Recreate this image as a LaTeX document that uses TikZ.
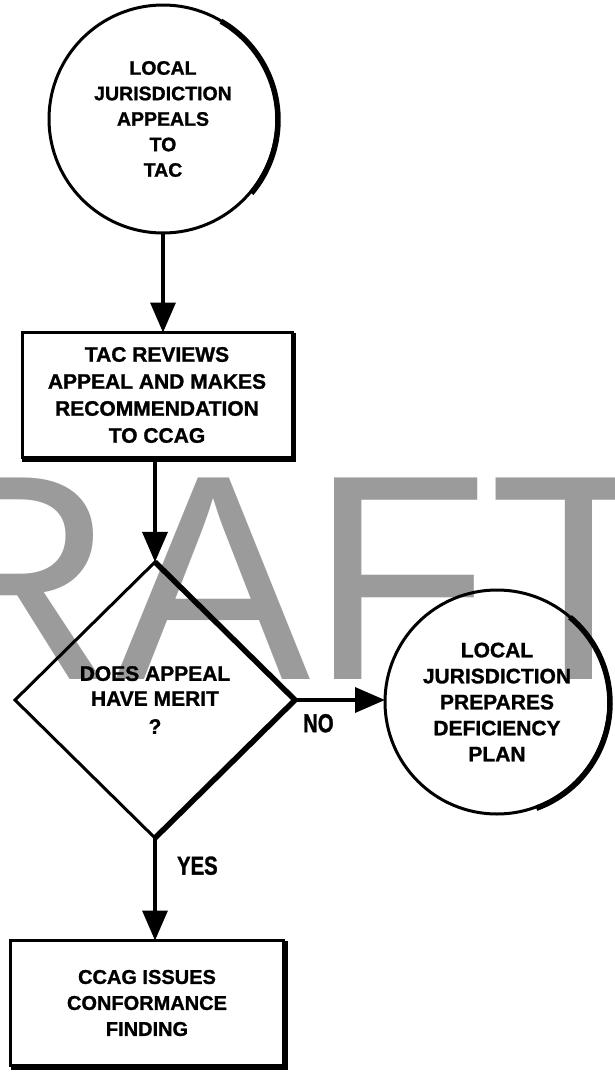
\documentclass[tikz,border=0pt]{standalone}
\usepackage{fontspec}
\setmainfont{Liberation Sans}[BoldFeatures={FakeBold=1.2}]
\newfontfamily\narrowfont[FakeStretch=0.78,BoldFeatures={FakeBold=1.2}]{Liberation Sans}
\usetikzlibrary{arrows.meta,shapes.geometric}
\definecolor{draftgray}{RGB}{155,155,155}

\begin{document}
\begin{tikzpicture}[x=1pt, y=-1pt, >={Triangle[length=30pt,width=25pt]},
    bubble/.style={circle, draw, line width=3pt, outer sep=0pt, align=center,
      font=\bfseries\fontsize{19.5}{25.5}\selectfont},
    panel/.style={rectangle, draw, line width=3pt, outer sep=0pt, minimum height=125pt,
      align=center, font=\bfseries\fontsize{21}{27}\selectfont},
    query/.style={diamond, draw, line width=3pt, outer sep=0pt, inner sep=0pt,
      minimum width=280pt, minimum height=276pt, align=center,
      font=\bfseries\fontsize{21}{25}\selectfont},
    answer/.style={font=\narrowfont\bfseries\fontsize{26}{26}\selectfont},
    heavy/.style={line width=5.5pt},
    flow/.style={line width=3.5pt},
    draftmark/.style={anchor=base west, inner sep=0pt, text=draftgray,
      font=\fontsize{293}{293}\selectfont}]
      \useasboundingbox (0,0) rectangle (614,1074);
      % watermark behind the chart
      \begin{scope}
        \clip (0,0) rectangle (614,1074);
        \node [draftmark] (draft) at (-308,679) {DRAFT};
      \end{scope}
      \node [bubble,minimum size=228pt] (appeal) at (163,119) {LOCAL\\JURISDICTION\\APPEALS\\TO\\TAC};
      \node [panel,minimum width=270pt] (review) at (157,395) {TAC REVIEWS\\APPEAL AND MAKES\\RECOMMENDATION\\TO CCAG};
      \node [query] (merit) at (155,700) {DOES APPEAL\\HAVE MERIT\\[3pt]?};
      \node [bubble,minimum size=224pt,font=\bfseries\fontsize{21}{26}\selectfont] (plan) at (497,702)
        {LOCAL\\JURISDICTION\\PREPARES\\DEFICIENCY\\PLAN};
      \node [panel,minimum width=273pt,font=\bfseries\fontsize{20}{26}\selectfont] (finding) at (147,1003)
        {CCAG ISSUES\\CONFORMANCE\\FINDING};
      % heavy shadow edges
      \draw [heavy] ([shift={(1pt,-1pt)}]appeal.60) arc[start angle=60,end angle=-40,radius=114pt];
      \draw [heavy] ([shift={(1pt,-1pt)}]plan.50) arc[start angle=50,end angle=-70,radius=112pt];
      \draw [heavy,line join=miter] (merit.north) -- (merit.east) -- (merit.south);
      \foreach \b in {review,finding}
        \draw [heavy] ([shift={(1.5pt,0pt)}]\b.north east) -- ([shift={(1.5pt,-1.5pt)}]\b.south east)
          -- ([shift={(0pt,-1.5pt)}]\b.south west);
      \path [->,flow]
      (appeal) edge (appeal.south |- review.north)
      (review.south -| merit.north) edge (merit)
      (merit) edge node[answer,below=9pt,pos=0.26] {NO} (merit.east -| plan.west)
      (merit) edge node[answer,right=17pt,pos=0.27] {YES} (merit.south |- finding.north)
      ;
\end{tikzpicture}
\end{document}
